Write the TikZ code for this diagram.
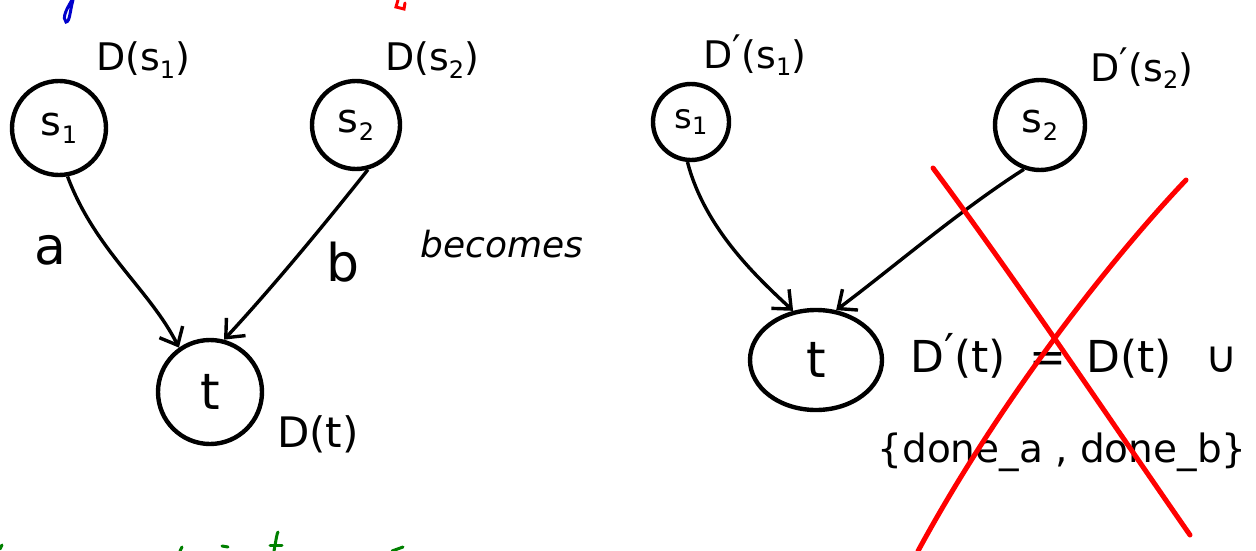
\documentclass[tikz,border=0pt]{standalone}
\usepackage{fontspec}
\setmainfont{DejaVu Sans}
\usetikzlibrary{arrows.meta,shapes.geometric}
\newcommand{\sbs}[1]{\raisebox{-0.35ex}{\fontsize{24}{26}\selectfont #1}}
\newcommand{\prm}{\raisebox{0.3ex}{′}}
\begin{document}
\begin{tikzpicture}[x=1pt,y=-1pt,
  st/.style={draw=black,line width=4.4pt,circle,inner sep=0pt},
  lbl/.style={font=\fontsize{38}{42}\selectfont},
  conn/.style={draw=black,line width=3.4pt,-{Straight Barb[length=15pt,width=26pt,line width=3.4pt]}},
  cross/.style={draw=red,line width=5pt,line cap=round},
  frag/.style={line width=3pt,line cap=round}]
\useasboundingbox (0,0) rectangle (1256,551);
% nodes
\node[st,minimum size=94pt] (s1) at (59,128) {\fontsize{40}{44}\selectfont s\sbs{1}};
\node[st,minimum size=88pt] (s2) at (356,125) {\fontsize{40}{44}\selectfont s\sbs{2}};
\node[st,minimum size=104pt] (t) at (210,392) {\fontsize{50}{54}\selectfont t};
\node[st,minimum size=76pt] (s1p) at (691,122) {\fontsize{34}{38}\selectfont s\sbs{1}};
\node[st,minimum size=90pt] (s2p) at (1040,125) {\fontsize{40}{44}\selectfont s\sbs{2}};
\node[st,ellipse,minimum width=132pt,minimum height=100pt] (tp) at (816,360) {\fontsize{50}{54}\selectfont t};
% labels
\node[lbl] (ds1) at (143,60) {D(s\sbs{1})};
\node[lbl] (ds2) at (432,60) {D(s\sbs{2})};
\node[font=\fontsize{42}{46}\selectfont] (dt) at (318,434) {D(t)};
\node[font=\fontsize{52}{56}\selectfont] (la) at (50,250) {a};
\node[font=\fontsize{52}{56}\selectfont] (lb) at (343,262) {b};
\node[font=\fontsize{36}{40}\selectfont\itshape] (bec) at (502,244) {becomes};
\node[lbl] (ds1p) at (755,55) {D\prm(s\sbs{1})};
\node[lbl] (ds2p) at (1142,68) {D\prm(s\sbs{2})};
\node[font=\fontsize{44}{48}\selectfont,anchor=west,inner sep=2pt] (eq) at (908,356) {D\prm(t)\hspace{24pt}=\hspace{20pt}D(t)\hspace{34pt}∪};
\node[font=\fontsize{39}{44}\selectfont] (set) at (1062,452) {\{done\_a , done\_b\}};
% connectors
\draw[conn] (s1.-80) .. controls (95,250) and (150,290) .. (t.125);
\draw[conn] (s2.-75) .. controls (320,230) and (270,290) .. (t.75);
\draw[conn] (s1p.-95) .. controls (705,230) and (760,280) .. (tp.115);
\draw[conn] (s2p.-110) .. controls (960,210) and (890,270) .. (tp.68);
% red cross
\coordinate (x1) at (933,168);
\coordinate (x2) at (1190,535);
\coordinate (x3) at (1186,180);
\coordinate (x4) at (918,551);
\draw[cross] (x1) .. controls (1020,285) and (1110,420) .. (x2);
\draw[cross] (x3) .. controls (1110,260) and (1000,400) .. (x4);
% fragments at the edges
\draw[frag,draw=blue!80!black] (72,0) .. controls (66,10) and (62,18) .. (66,22) .. controls (70,22) and (70,10) .. (73,0);
\draw[frag,draw=red] (398,0) -- (396,7) -- (404,9) -- (405,3);
\draw[frag,draw=green!50!black] (0,549) -- (2,545);
\draw[frag,draw=green!50!black] (180,551) -- (182,547);
\draw[frag,draw=green!50!black] (222,546) -- (228,547);
\draw[frag,draw=green!50!black] (274,551) .. controls (276,540) and (277,533) .. (278,532);
\draw[frag,draw=green!50!black] (270,545) -- (282,545);
\draw[frag,draw=green!50!black] (392,551) -- (403,547);
\end{tikzpicture}
\end{document}
